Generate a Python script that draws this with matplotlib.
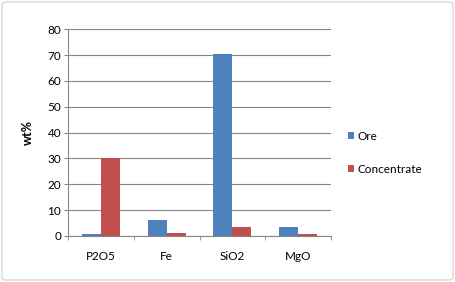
import matplotlib
matplotlib.use("Agg")
import matplotlib.pyplot as plt
import numpy as np
from matplotlib.patches import FancyBboxPatch

categories = ["P2O5", "Fe", "SiO2", "MgO"]
ore = [0.9, 6.0, 70.5, 3.3]
concentrate = [30.2, 1.0, 3.5, 0.6]
yticks = [0, 10, 20, 30, 40, 50, 60, 70, 80]

plt.rcParams['font.family'] = ['Lato', 'DejaVu Sans']

fig = plt.figure(figsize=(4.55, 2.82), dpi=100)
ax = fig.add_axes([68/455, 1-236/282, (331-68)/455, (236-29.3)/282])

x = np.arange(len(categories))
w = 0.29
ax.bar(x - w/2, ore, w, color="#4F81BD", label="Ore", zorder=3)
ax.bar(x + w/2, concentrate, w, color="#C0504D", label="Concentrate", zorder=3)

ax.set_xlim(-0.5, len(categories) - 0.5)
ax.set_ylim(0, 80)
ax.set_yticks(yticks)
ax.yaxis.grid(True, color="#868686", linewidth=0.8, zorder=0)
ax.set_xticks(x)
ax.set_xticklabels(categories, fontsize=8.5)
ax.tick_params(axis='x', length=0, pad=11)
ax.set_xticks(np.arange(-0.5, len(categories)), minor=True)
ax.tick_params(axis='x', which='minor', length=3, color="#868686")
ax.tick_params(axis='y', length=3, color="#868686", labelsize=8.5, pad=2)
for s in ["top", "right"]:
    ax.spines[s].set_visible(False)
for s in ["left", "bottom"]:
    ax.spines[s].set_color("#868686")
    ax.spines[s].set_linewidth(0.8)
ax.set_ylabel("wt%", fontsize=9, fontweight="bold", labelpad=10)

fig.legend(loc="upper left", bbox_to_anchor=(343/455, 1-126/282), frameon=False,
           fontsize=8.5, handlelength=0.55, handleheight=0.55, handletextpad=0.3,
           labelspacing=1.85, borderaxespad=0)

border = FancyBboxPatch((2/455, 2/282), 1-4/455, 1-4/282, boxstyle="round,pad=0,rounding_size=0.01",
                        transform=fig.transFigure, fill=False, edgecolor="#D9D9D9", linewidth=1)
fig.patches.append(border)

fig.savefig("out.png", dpi=100)
